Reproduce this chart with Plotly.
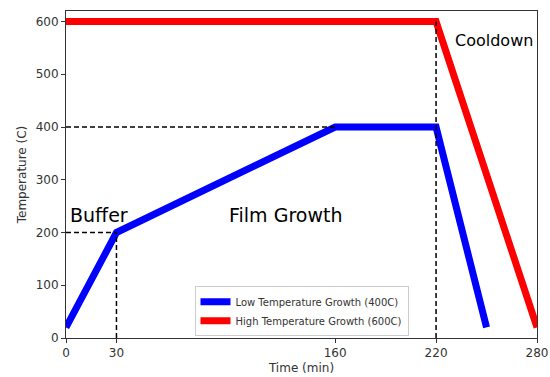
import plotly.graph_objects as go

# Temperature profiles (time in minutes, temperature in C)
low_time = [0, 30, 160, 220, 250]
low_temp = [20, 200, 400, 400, 20]
high_time = [0, 220, 280]
high_temp = [600, 600, 20]

# Dashed guide lines marking stage boundaries
guides = [
    ([0, 30], [200, 200]),
    ([30, 30], [0, 200]),
    ([0, 160], [400, 400]),
    ([220, 220], [0, 600]),
]

# Stage annotations
stage_labels = ["Buffer", "Film Growth", "Cooldown"]
stage_x = [1, 96, 230]
stage_y = [208, 208, 543]
stage_size = [19, 19, 16]

x_ticks = [0, 30, 160, 220, 280]
y_ticks = [0, 100, 200, 300, 400, 500, 600]

font = "DejaVu Sans, sans-serif"
fig = go.Figure()

fig.add_trace(go.Scatter(x=low_time, y=low_temp, mode="lines",
                         name="Low Temperature Growth (400C)",
                         line=dict(color="#0000ff", width=7)))
fig.add_trace(go.Scatter(x=high_time, y=high_temp, mode="lines",
                         name="High Temperature Growth (600C)",
                         line=dict(color="#ff0000", width=7)))

for gx, gy in guides:
    fig.add_trace(go.Scatter(x=gx, y=gy, mode="lines", showlegend=False,
                             hoverinfo="skip",
                             line=dict(color="black", width=1.5, dash="5px,3px")))

for txt, tx, ty, sz in zip(stage_labels, stage_x, stage_y, stage_size):
    fig.add_annotation(x=tx, y=ty, text=txt, showarrow=False,
                       xanchor="left", yanchor="bottom",
                       font=dict(family=font, size=sz, color="black"))

axis_common = dict(showgrid=False, zeroline=False, showline=True, mirror=True,
                   linecolor="#333333", linewidth=1, ticks="outside",
                   ticklen=4, tickcolor="#333333", automargin=False,
                   tickfont=dict(family=font, size=12, color="#333333"))

fig.update_xaxes(range=[0, 280], tickvals=x_ticks,
                 title=dict(text="Time (min)", font=dict(family=font, size=12, color="#333333"),
                            standoff=4),
                 **axis_common)
fig.update_yaxes(range=[0, 620], tickvals=y_ticks,
                 title=dict(text="Temperature (C)", font=dict(family=font, size=12, color="#333333"),
                            standoff=6),
                 **axis_common)

fig.update_layout(
    width=550, height=377,
    margin=dict(l=66, r=13, t=11, b=39, autoexpand=False),
    paper_bgcolor="white", plot_bgcolor="white",
    font=dict(family=font, color="#333333"),
    legend=dict(x=0.5, y=0.005, xanchor="center", yanchor="bottom",
                bgcolor="rgba(255,255,255,0.8)", bordercolor="#cccccc", borderwidth=1,
                font=dict(family=font, size=10, color="#333333"),
                tracegroupgap=0, itemwidth=30),
    showlegend=True,
)

fig.write_html("out.html")
